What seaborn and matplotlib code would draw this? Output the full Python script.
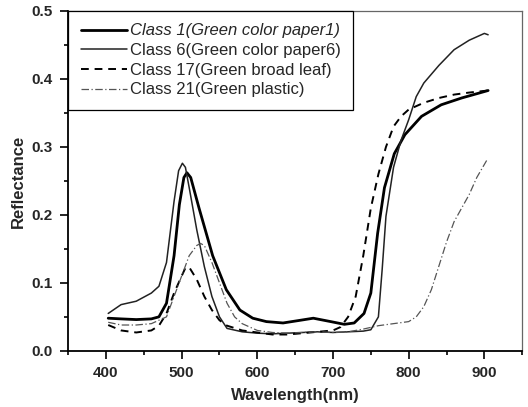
import numpy as np
import pandas as pd
import seaborn as sns
import matplotlib.pyplot as plt
from matplotlib.ticker import MultipleLocator

sns.set_style("ticks")
plt.rcParams['font.family'] = ['Liberation Sans', 'DejaVu Sans']

# Class 1 (Green color paper1)
wl_c1 = [403, 420, 440, 460, 470, 480, 490, 497, 503, 507, 512, 523, 541, 559, 577, 594, 612, 634, 657, 674,
         697, 715, 728, 741, 750, 759, 768, 781, 795, 817, 843, 870, 905]
rf_c1 = [0.048, 0.047, 0.046, 0.047, 0.050, 0.070, 0.140, 0.215, 0.255, 0.262, 0.255, 0.210, 0.140, 0.090, 0.060, 0.048,
         0.043, 0.041, 0.045, 0.048, 0.043, 0.039, 0.041, 0.055, 0.085, 0.173, 0.240, 0.290, 0.318, 0.345, 0.362, 0.372, 0.383]

# Class 6 (Green color paper6)
wl_c6 = [403, 420, 440, 460, 470, 480, 490, 496, 501, 505, 510, 520, 530, 540, 550, 560, 580, 600, 620, 640,
         660, 680, 700, 720, 740, 750, 760, 765, 770, 780, 790, 800, 810, 820, 840, 860, 880, 900, 905]
rf_c6 = [0.055, 0.068, 0.073, 0.085, 0.095, 0.130, 0.220, 0.265, 0.276, 0.270, 0.240, 0.178, 0.124, 0.080, 0.050, 0.033,
         0.028, 0.026, 0.025, 0.026, 0.027, 0.028, 0.027, 0.028, 0.029, 0.031, 0.050, 0.120, 0.198, 0.270, 0.310, 0.340,
         0.374, 0.394, 0.420, 0.443, 0.457, 0.467, 0.465]

# Class 17 (Green broad leaf)
wl_c17 = [403, 420, 440, 460, 470, 480, 490, 500, 505, 510, 520, 530, 540, 550, 560, 580, 600, 620, 640, 660,
          680, 700, 710, 720, 730, 740, 750, 760, 770, 780, 790, 800, 820, 840, 860, 880, 905]
rf_c17 = [0.038, 0.030, 0.027, 0.030, 0.037, 0.055, 0.085, 0.110, 0.122, 0.123, 0.105, 0.080, 0.060, 0.045, 0.037, 0.030,
          0.027, 0.024, 0.024, 0.026, 0.028, 0.030, 0.035, 0.050, 0.080, 0.140, 0.210, 0.260, 0.300, 0.330, 0.345, 0.355,
          0.365, 0.372, 0.377, 0.380, 0.383]

# Class 21 (Green plastic)
wl_c21 = [403, 420, 440, 460, 480, 490, 500, 510, 520, 525, 530, 540, 550, 560, 570, 580, 600, 620, 640, 660,
          680, 700, 720, 740, 760, 780, 800, 810, 820, 830, 840, 850, 860, 870, 880, 890, 903]
rf_c21 = [0.042, 0.038, 0.038, 0.040, 0.050, 0.080, 0.110, 0.140, 0.155, 0.158, 0.155, 0.130, 0.100, 0.070, 0.050, 0.040,
          0.030, 0.027, 0.026, 0.027, 0.028, 0.027, 0.028, 0.032, 0.037, 0.040, 0.043, 0.050, 0.065, 0.090, 0.125, 0.160,
          0.190, 0.210, 0.230, 0.255, 0.280]

series = [
    (wl_c1, rf_c1, 'Class 1(Green color paper1)', 'black', '-', 2.0),
    (wl_c6, rf_c6, 'Class 6(Green color paper6)', '#222222', '-', 1.1),
    (wl_c17, rf_c17, 'Class 17(Green broad leaf)', 'black', (0, (4, 3)), 1.4),
    (wl_c21, rf_c21, 'Class 21(Green plastic)', '#555555', (0, (6, 2, 1, 2)), 0.9),
]

fig = plt.figure(figsize=(5.28, 4.07), dpi=100)
ax = fig.add_axes([0.129, 0.138, 0.86, 0.835])

for wl, rf, name, col, ls, lw in series:
    sns.lineplot(x=wl, y=rf, ax=ax, color=col, linestyle=ls, linewidth=lw, label=name, sort=False)

for side in ['left', 'bottom']:
    ax.spines[side].set_visible(True)
    ax.spines[side].set_linewidth(1.3)
    ax.spines[side].set_color('black')
for side in ['top', 'right']:
    ax.spines[side].set_visible(True)
    ax.spines[side].set_linewidth(0.9)
    ax.spines[side].set_color('#666666')

ax.set_xlim(350, 950)
ax.set_ylim(0, 0.5)
ax.xaxis.set_major_locator(MultipleLocator(100))
ax.xaxis.set_minor_locator(MultipleLocator(50))
ax.yaxis.set_major_locator(MultipleLocator(0.1))
ax.yaxis.set_minor_locator(MultipleLocator(0.05))
ax.tick_params(which='both', direction='out', top=False, right=False, color='black', width=1.2)
ax.tick_params(which='major', length=6, pad=5, labelsize=11)
ax.tick_params(which='minor', length=3)
for lab in ax.get_xticklabels() + ax.get_yticklabels():
    lab.set_fontweight('bold')
ax.set_xlabel('Wavelength(nm)', fontsize=12, fontweight='bold', labelpad=6)
ax.set_ylabel('Reflectance', fontsize=12, fontweight='bold', labelpad=4)

leg = ax.legend(loc='upper left', borderaxespad=0, fontsize=12, fancybox=False,
                edgecolor='black', framealpha=1, handlelength=2.8, handletextpad=0.15,
                labelspacing=0.28, borderpad=0.75)
leg.get_frame().set_linewidth(0.9)
leg.get_texts()[0].set_fontstyle('italic')

fig.savefig('out.png', dpi=100)
